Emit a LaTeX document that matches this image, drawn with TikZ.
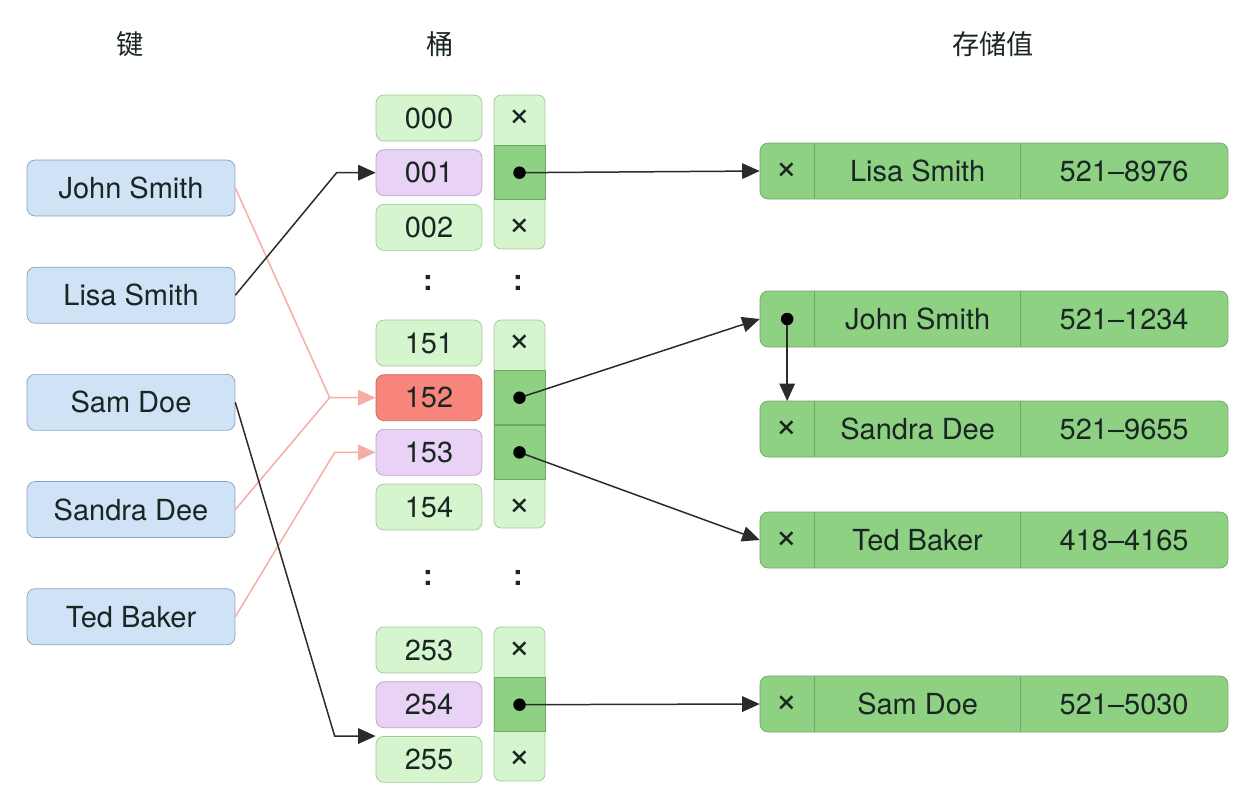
\documentclass[tikz,border=0pt]{standalone}
\usepackage{fontspec}
\setmainfont{TeX Gyre Heros}
\newfontfamily\cjk{Noto Sans CJK SC}
\usetikzlibrary{positioning,arrows.meta}

\definecolor{ink}{HTML}{1A2622}
\definecolor{keyfill}{HTML}{CFE2F6}
\definecolor{keyline}{HTML}{8AA2BE}
\definecolor{bktfill}{HTML}{D5F5CF}
\definecolor{bktline}{HTML}{A3C79A}
\definecolor{cellfill}{HTML}{8FD183}
\definecolor{cellline}{HTML}{6FA866}
\definecolor{hitfill}{HTML}{E8D2F6}
\definecolor{hitline}{HTML}{B7A2C6}
\definecolor{clashfill}{HTML}{F7857C}
\definecolor{clashline}{HTML}{C8685F}
\definecolor{pinkink}{HTML}{F5ADA5}
\definecolor{arrowink}{HTML}{2B2B2B}

\tikzstyle{title} = [font=\cjk\fontsize{15.5}{18}\selectfont, text=ink]
\tikzstyle{keybox} = [rectangle, rounded corners=0.16cm, minimum width=4.16cm, minimum height=1.12cm, text centered, draw=keyline, fill=keyfill, text=ink]
\tikzstyle{bucket} = [rectangle, rounded corners=0.16cm, minimum width=2.12cm, minimum height=0.92cm, text centered, draw=bktline, fill=bktfill, text=ink]
\tikzstyle{hit} = [bucket, draw=hitline, fill=hitfill]
\tikzstyle{clash} = [bucket, draw=clashline, fill=clashfill]
\tikzstyle{slotcol} = [rectangle, rounded corners=0.14cm, minimum width=1.02cm, draw=bktline, fill=bktfill]
\tikzstyle{slot} = [rectangle, minimum width=1.02cm, minimum height=1.08cm, text=ink, font=\fontsize{22}{24}\selectfont]
\tikzstyle{fullslot} = [slot, draw=cellline, fill=cellfill]
\tikzstyle{valrow} = [rectangle, rounded corners=0.16cm, minimum width=9.36cm, minimum height=1.12cm, draw=cellline, fill=cellfill]
\tikzstyle{rowcell} = [rectangle, minimum height=1.12cm, inner sep=0pt, outer sep=0pt, text=ink]
\tikzstyle{nilcell} = [rowcell, font=\fontsize{22}{24}\selectfont]
\tikzstyle{divider} = [draw=cellline, line width=0.02cm]
\tikzstyle{ptrdot} = [circle, fill=black, inner sep=0pt, minimum size=0.25cm]
\tikzstyle{gap} = [font=\bfseries\fontsize{16.5}{20}\selectfont, text=ink]
\tikzstyle{arrow} = [line width=0.03cm, draw=arrowink, ->, >={Triangle[length=0.35cm, width=0.31cm]}]
\tikzstyle{pinkline} = [line width=0.03cm, draw=pinkink]
\tikzstyle{pinkarrow} = [pinkline, ->, >={Triangle[length=0.35cm, width=0.31cm]}]

\begin{document}
\begin{tikzpicture}[x=0.02cm, y=-0.02cm, node distance=0.16cm, font=\fontsize{16.5}{20}\selectfont]
\useasboundingbox (0,0) rectangle (1255,792);

% column titles
\node (tKey)[title] at (130,44) {键};
\node (tBucket)[title] at (440,44) {桶};
\node (tValue)[title] at (993,44) {存储值};

% keys
\node (kJohn)[keybox] at (131,188) {John Smith};
\node (kLisa)[keybox, below=1.01cm of kJohn] {Lisa Smith};
\node (kSam)[keybox, below=1.01cm of kLisa] {Sam Doe};
\node (kSandra)[keybox, below=1.01cm of kSam] {Sandra Dee};
\node (kTed)[keybox, below=1.01cm of kSandra] {Ted Baker};

% buckets 000-002
\node (b000)[bucket] at (429,118) {000};
\node (b001)[hit, below=of b000] {001};
\node (b002)[bucket, below=of b001] {002};
\node (col1)[slotcol, minimum height=3.08cm] at (519.5,172) {};
\node (s000)[slot] at (b000 -| col1) {×};
\node (s001)[fullslot] at (b001 -| col1) {};
\node (s002)[slot] at (b002 -| col1) {×};

\node (gap1a)[gap] at (428,283) {:};
\node (gap1b)[gap] at (518,283) {:};

% buckets 151-154
\node (b151)[bucket] at (429,343) {151};
\node (b152)[clash, below=of b151] {152};
\node (b153)[hit, below=of b152] {153};
\node (b154)[bucket, below=of b153] {154};
\node (col2)[slotcol, minimum height=4.16cm] at (519.5,424) {};
\node (s151)[slot] at (b151 -| col2) {×};
\node (s152)[fullslot] at (b152 -| col2) {};
\node (s153)[fullslot] at (b153 -| col2) {};
\node (s154)[slot] at (b154 -| col2) {×};

\node (gap2a)[gap] at (428,578) {:};
\node (gap2b)[gap] at (518,578) {:};

% buckets 253-255
\node (b253)[bucket] at (429,650) {253};
\node (b254)[hit, below=of b253] {254};
\node (b255)[bucket, below=of b254] {255};
\node (col3)[slotcol, minimum height=3.08cm] at (519.5,704) {};
\node (s253)[slot] at (b253 -| col3) {×};
\node (s254)[fullslot] at (b254 -| col3) {};
\node (s255)[slot] at (b255 -| col3) {×};

% stored values
\node (rLisa)[valrow] at (994,171) {};
\node (rLisaP)[nilcell, minimum width=1.1cm, right=0cm of rLisa.west] {×};
\node (rLisaN)[rowcell, minimum width=4.12cm, right=0cm of rLisaP] {Lisa Smith};
\node (rLisaV)[rowcell, minimum width=4.14cm, right=0cm of rLisaN] {521--8976};
\draw [divider](rLisaN.north west) -- (rLisaN.south west) (rLisaN.north east) -- (rLisaN.south east);

\node (rJohn)[valrow] at (994,319) {};
\node (rJohnP)[rowcell, minimum width=1.1cm, right=0cm of rJohn.west] {};
\node (rJohnN)[rowcell, minimum width=4.12cm, right=0cm of rJohnP] {John Smith};
\node (rJohnV)[rowcell, minimum width=4.14cm, right=0cm of rJohnN] {521--1234};
\draw [divider](rJohnN.north west) -- (rJohnN.south west) (rJohnN.north east) -- (rJohnN.south east);

\node (rSandra)[valrow] at (994,429) {};
\node (rSandraP)[nilcell, minimum width=1.1cm, right=0cm of rSandra.west] {×};
\node (rSandraN)[rowcell, minimum width=4.12cm, right=0cm of rSandraP] {Sandra Dee};
\node (rSandraV)[rowcell, minimum width=4.14cm, right=0cm of rSandraN] {521--9655};
\draw [divider](rSandraN.north west) -- (rSandraN.south west) (rSandraN.north east) -- (rSandraN.south east);

\node (rTed)[valrow] at (994,540) {};
\node (rTedP)[nilcell, minimum width=1.1cm, right=0cm of rTed.west] {×};
\node (rTedN)[rowcell, minimum width=4.12cm, right=0cm of rTedP] {Ted Baker};
\node (rTedV)[rowcell, minimum width=4.14cm, right=0cm of rTedN] {418--4165};
\draw [divider](rTedN.north west) -- (rTedN.south west) (rTedN.north east) -- (rTedN.south east);

\node (rSam)[valrow] at (994,704) {};
\node (rSamP)[nilcell, minimum width=1.1cm, right=0cm of rSam.west] {×};
\node (rSamN)[rowcell, minimum width=4.12cm, right=0cm of rSamP] {Sam Doe};
\node (rSamV)[rowcell, minimum width=4.14cm, right=0cm of rSamN] {521--5030};
\draw [divider](rSamN.north west) -- (rSamN.south west) (rSamN.north east) -- (rSamN.south east);

% hashing keys into buckets
\coordinate (jLisa) at ([xshift=-0.78cm]b001.west);
\coordinate (j152) at ([xshift=-0.92cm]b152.west);
\coordinate (jTed) at ([xshift=-0.82cm]b153.west);
\coordinate (jSam) at ([xshift=-0.82cm]b255.north west);
\draw [pinkarrow](kJohn.east) -- (j152) -- (b152.west);
\draw [pinkline](kSandra.east) -- (j152);
\draw [pinkarrow](kTed.east) -- (jTed) -- (b153.west);
\draw [arrow](kLisa.east) -- (jLisa) -- (b001.west);
\draw [arrow](kSam.east) -- (jSam) -- (b255.north west);

% bucket pointers
\draw [arrow](s001.center) -- (rLisa.west);
\draw [arrow](s152.center) -- (rJohn.west);
\draw [arrow](s153.center) -- (rTed.west);
\draw [arrow](s254.center) -- (rSam.west);
\draw [arrow](rJohnP.center) -- (rSandraP.north);
\node (d001)[ptrdot] at (s001) {};
\node (d152)[ptrdot] at (s152) {};
\node (d153)[ptrdot] at (s153) {};
\node (d254)[ptrdot] at (s254) {};
\node (dJohn)[ptrdot] at (rJohnP) {};
\end{tikzpicture}
\end{document}
